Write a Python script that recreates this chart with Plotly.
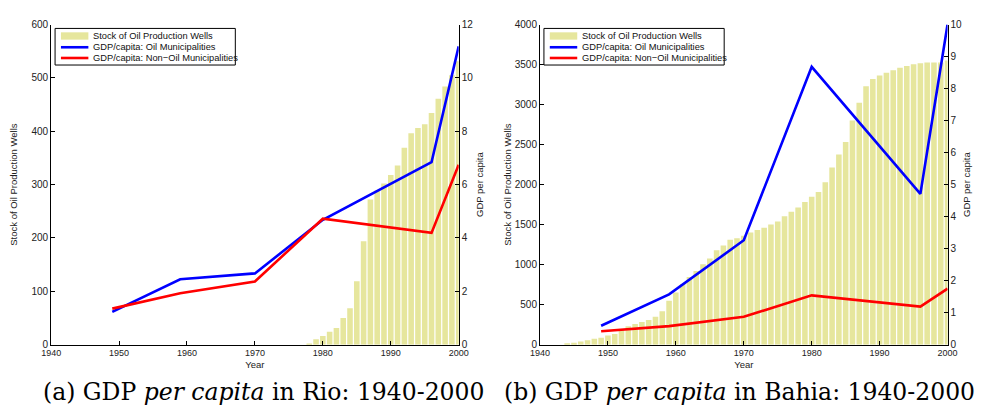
import plotly.graph_objects as go

# ---------------- data ----------------
rio_bar_years = list(range(1978, 2001))
rio_wells = [2, 10, 16, 24, 31, 50, 68, 119, 194, 272, 289, 302, 318, 336,
             369, 396, 406, 413, 434, 461, 484, 505, 531]

bahia_bar_years = list(range(1944, 2001))
bahia_wells = [16, 24, 40, 56, 73, 85, 113, 134, 190, 231,
               259, 284, 308, 348, 418, 548, 653, 759, 844, 921,
               1006, 1075, 1181, 1238, 1311, 1331, 1360, 1400, 1433, 1460,
               1500, 1540, 1603, 1660, 1713, 1782, 1847, 1907, 2029, 2215,
               2375, 2533, 2800, 3024, 3228, 3320, 3362, 3398, 3430, 3459,
               3483, 3503, 3515, 3525, 3527, 3527, 3550]

gdp_years = [1949, 1959, 1970, 1980, 1996, 2000]
rio_gdp_oil = [1.23, 2.45, 2.67, 4.68, 6.84, 11.18]
rio_gdp_nonoil = [1.35, 1.93, 2.37, 4.72, 4.19, 6.74]
bahia_gdp_oil = [0.59, 1.57, 3.26, 8.68, 4.71, 10.0]
bahia_gdp_nonoil = [0.42, 0.58, 0.87, 1.54, 1.19, 1.75]

x_ticks = [1940, 1950, 1960, 1970, 1980, 1990, 2000]
rio_left_ticks = [0, 100, 200, 300, 400, 500, 600]
rio_right_ticks = [0, 2, 4, 6, 8, 10, 12]
bahia_left_ticks = [0, 500, 1000, 1500, 2000, 2500, 3000, 3500, 4000]
bahia_right_ticks = [0, 1, 2, 3, 4, 5, 6, 7, 8, 9, 10]

legend_labels = ["Stock of Oil Production Wells",
                 "GDP/capita: Oil Municipalities",
                 "GDP/capita: Non\u2212Oil Municipalities"]
captions = ["(a) GDP <i>per capita</i> in Rio: 1940-2000",
            "(b) GDP <i>per capita</i> in Bahia: 1940-2000"]

# ---------------- style ----------------
BAR_COLOR = "rgb(230,230,157)"
BLUE = "#0000ff"
RED = "#ff0000"
W, H = 984, 417
SANS = "Liberation Sans, Arial, sans-serif"


def px(x):
    return x / W


def py(y):
    return 1 - y / H


fig = go.Figure()

panels = [
    dict(bx=rio_bar_years, by=rio_wells, oil=rio_gdp_oil, non=rio_gdp_nonoil,
         xa="x", ya="y", ya2="y2"),
    dict(bx=bahia_bar_years, by=bahia_wells, oil=bahia_gdp_oil, non=bahia_gdp_nonoil,
         xa="x2", ya="y3", ya2="y4"),
]

for p in panels:
    fig.add_trace(go.Bar(x=p["bx"], y=p["by"], name=legend_labels[0],
                         marker=dict(color=BAR_COLOR, line=dict(width=0)),
                         xaxis=p["xa"], yaxis=p["ya"], showlegend=False))
    fig.add_trace(go.Scatter(x=gdp_years, y=p["oil"], name=legend_labels[1], mode="lines",
                             line=dict(color=BLUE, width=2.6),
                             xaxis=p["xa"], yaxis=p["ya2"], showlegend=False))
    fig.add_trace(go.Scatter(x=gdp_years, y=p["non"], name=legend_labels[2], mode="lines",
                             line=dict(color=RED, width=2.6),
                             xaxis=p["xa"], yaxis=p["ya2"], showlegend=False))

ydom = [py(348), py(20)]
xdoms = [[px(42), px(458)], [px(541), px(957)]]

tickfont_y = dict(family=SANS, size=10, color="#222")
tickfont_x = dict(family=SANS, size=9, color="#222")
titlefont = dict(family=SANS, size=9.5, color="#222")

common_x = dict(range=[1940, 2000], tickmode="array", tickvals=x_ticks,
                ticks="inside", ticklen=4, tickcolor="#000", showline=True,
                linecolor="#000", linewidth=1, showgrid=False, zeroline=False,
                tickfont=tickfont_x, mirror=False)
common_y = dict(ticks="inside", ticklen=4, tickcolor="#000", showline=True,
                linecolor="#000", linewidth=1, showgrid=False, zeroline=False,
                tickfont=tickfont_y, tickmode="array")

fig.update_layout(
    width=W, height=H,
    margin=dict(l=0, r=0, t=0, b=0),
    paper_bgcolor="white", plot_bgcolor="white",
    showlegend=False,
    bargap=0.18,
    xaxis=dict(domain=xdoms[0], anchor="y",
               title=dict(text="Year", font=titlefont, standoff=3), **common_x),
    xaxis2=dict(domain=xdoms[1], anchor="y3",
                title=dict(text="Year", font=titlefont, standoff=3), **common_x),
    yaxis=dict(domain=ydom, anchor="x", range=[0, 600], tickvals=rio_left_ticks,
               title=dict(text="Stock of Oil Production Wells", font=titlefont, standoff=12),
               **common_y),
    yaxis2=dict(overlaying="y", side="right", anchor="x", range=[0, 12],
                tickvals=rio_right_ticks,
                title=dict(text="GDP per capita", font=titlefont, standoff=4),
                **common_y),
    yaxis3=dict(domain=ydom, anchor="x2", range=[0, 4000], tickvals=bahia_left_ticks,
                title=dict(text="Stock of Oil Production Wells", font=titlefont, standoff=1),
                **common_y),
    yaxis4=dict(overlaying="y3", side="right", anchor="x2", range=[0, 10],
                tickvals=bahia_right_ticks,
                title=dict(text="GDP per capita", font=titlefont, standoff=2),
                **common_y),
)

# ---------------- custom legends (MATLAB-like boxes) ----------------
shapes = []
annotations = []
for dx in (0, 499):
    shapes.append(dict(type="rect", xref="paper", yref="paper",
                       x0=px(46 + dx), x1=px(230 + dx), y0=py(61.5), y1=py(24),
                       line=dict(color="#000", width=1), fillcolor="white", layer="above"))
    rows = [31.7, 43.3, 54.3]
    shapes.append(dict(type="rect", xref="paper", yref="paper",
                       x0=px(52 + dx), x1=px(80 + dx), y0=py(35.5), y1=py(28),
                       line=dict(width=0), fillcolor=BAR_COLOR, layer="above"))
    for row, col in zip(rows[1:], (BLUE, RED)):
        shapes.append(dict(type="line", xref="paper", yref="paper",
                           x0=px(52 + dx), x1=px(80 + dx), y0=py(row), y1=py(row),
                           line=dict(color=col, width=2.6), layer="above"))
    for row, lab in zip(rows, legend_labels):
        annotations.append(dict(xref="paper", yref="paper", x=px(83 + dx), y=py(row),
                                xanchor="left", yanchor="middle", text=lab,
                                showarrow=False,
                                font=dict(family=SANS, size=9.3, color="#111")))

# captions
for cx, cap in zip((259, 745), captions):
    annotations.append(dict(xref="paper", yref="paper", x=px(cx), y=py(396),
                            xanchor="center", yanchor="middle", text=cap,
                            showarrow=False,
                            font=dict(family="DejaVu Serif, serif", size=23.5, color="#000")))

fig.update_layout(shapes=shapes, annotations=annotations)

fig.write_html("out.html")
